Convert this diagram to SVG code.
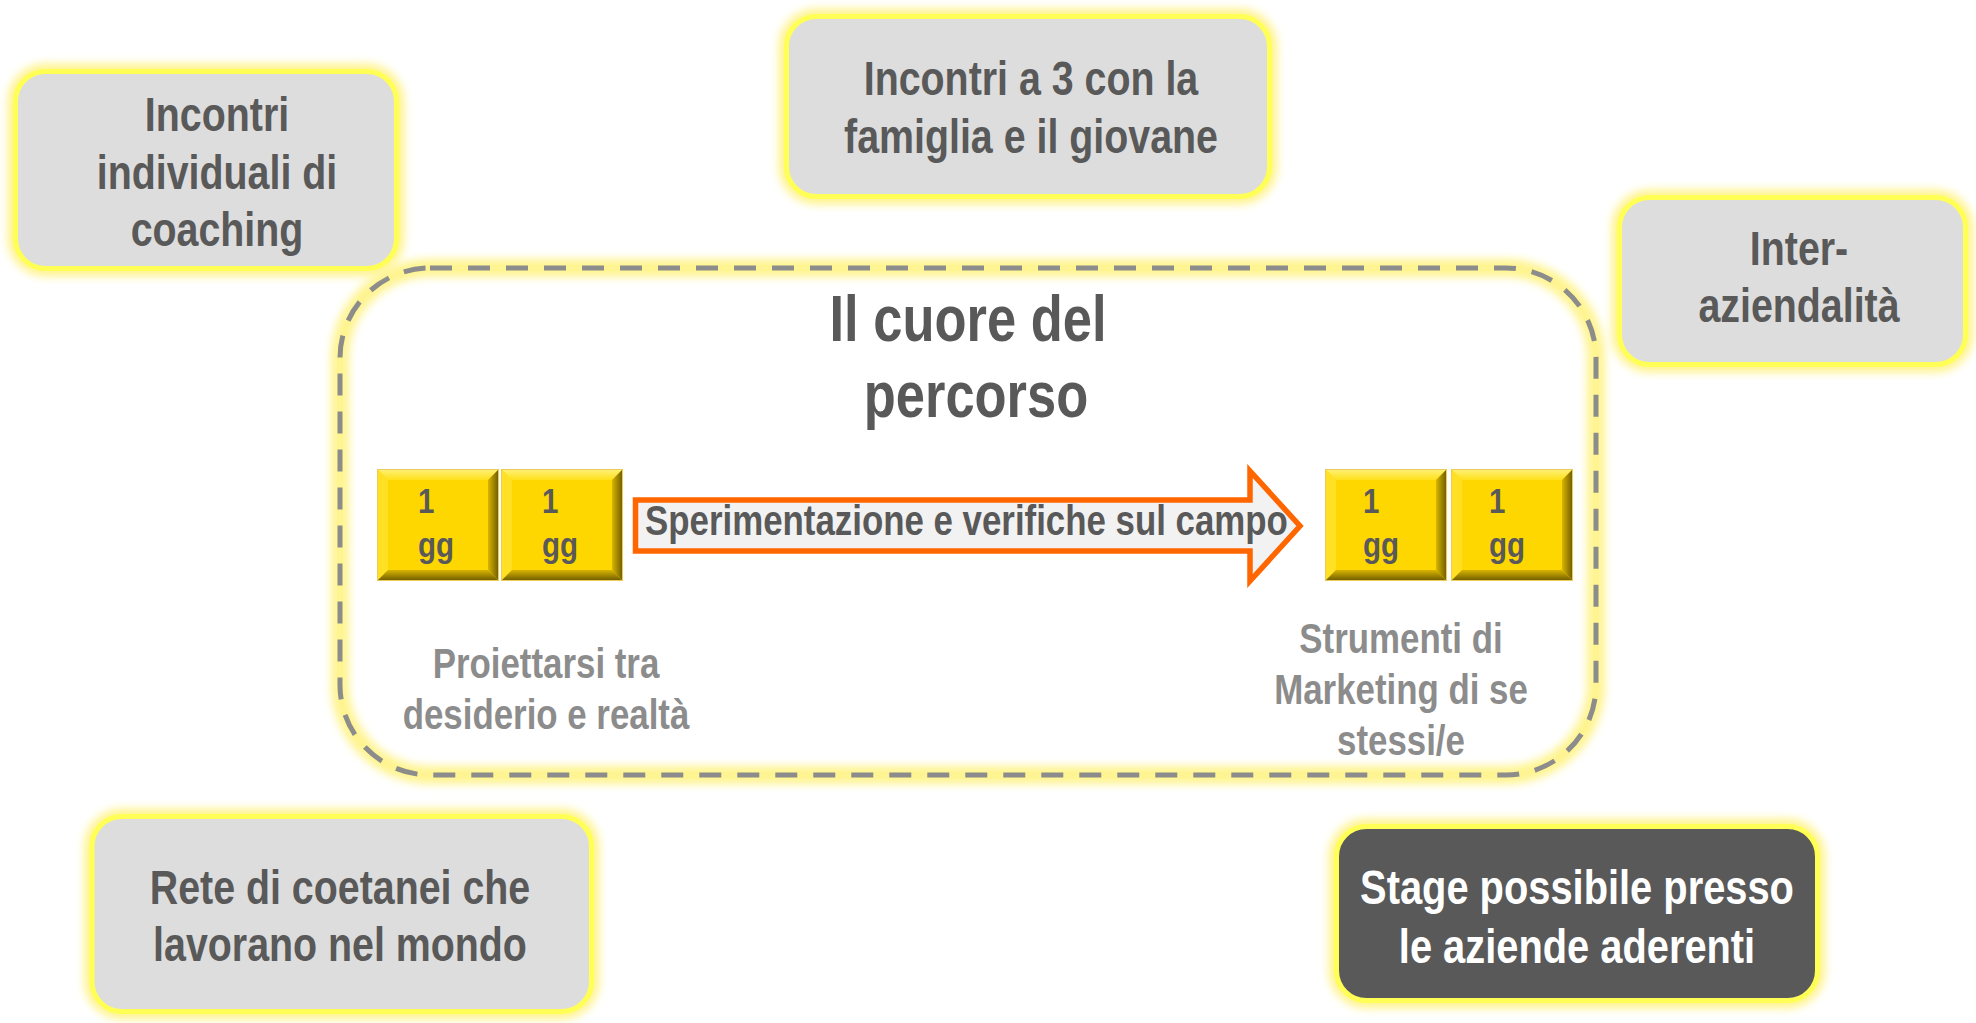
<svg xmlns="http://www.w3.org/2000/svg" xmlns:xlink="http://www.w3.org/1999/xlink" width="1976" height="1023" viewBox="0 0 1976 1023">
<style>
  .t { font-family: "Liberation Sans", Arial, sans-serif; font-weight: bold; }
  .node { fill: #DDDDDD; stroke: #FFFF55; stroke-width: 5; }
  .dark { fill: #595959; stroke: #FFFF55; stroke-width: 5; }
  .glow { fill: none; stroke: #FFF27A; stroke-width: 16; opacity: 0.85; filter: url(#blur); }
  .lbl { font-size: 48px; fill: #595959; text-anchor: middle; }
  .wlbl { font-size: 48px; fill: #FFFFFF; text-anchor: middle; }
  .sub { font-size: 42px; fill: #8C8C8C; text-anchor: middle; }
  .gg { font-size: 36px; fill: #595959; }
</style>
<defs>
  <filter id="blur" x="-10%" y="-10%" width="120%" height="120%">
    <feGaussianBlur stdDeviation="4"/>
  </filter>
  <linearGradient id="gTop" x1="0" y1="0" x2="0" y2="1">
    <stop offset="0" stop-color="#FFF27A"/>
    <stop offset="1" stop-color="#FFE01A"/>
  </linearGradient>
  <linearGradient id="gBot" x1="0" y1="0" x2="0" y2="1">
    <stop offset="0" stop-color="#D9B500"/>
    <stop offset="1" stop-color="#6B5900"/>
  </linearGradient>
  <linearGradient id="gRight" x1="0" y1="0" x2="1" y2="0">
    <stop offset="0" stop-color="#D9B500"/>
    <stop offset="1" stop-color="#6B5900"/>
  </linearGradient>
  <symbol id="sq" viewBox="0 0 122 112" width="122" height="112">
    <rect x="0" y="0" width="122" height="112" fill="#FFD700"/>
    <polygon points="0,0 122,0 111,11 11,11" fill="url(#gTop)"/>
    <polygon points="0,0 11,11 11,101 0,112" fill="#FFE024"/>
    <polygon points="0,112 11,101 111,101 122,112" fill="url(#gBot)"/>
    <polygon points="122,0 111,11 111,101 122,112" fill="url(#gRight)"/>
    <rect x="0.5" y="0.5" width="121" height="111" fill="none" stroke="#EBCB5A" stroke-width="1"/>
  </symbol>
</defs>

<rect width="1976" height="1023" fill="#FFFFFF"/>

<g id="core">
  <rect x="340" y="268" width="1256" height="507" rx="90" fill="none" stroke="#FFF27A" stroke-width="18" opacity="0.85" filter="url(#blur)"/>
  <rect x="340" y="268" width="1256" height="507" rx="90" fill="none" stroke="#8C8C8C" stroke-width="5" stroke-dasharray="22 16"/>
  <text class="t" font-size="64" fill="#595959" text-anchor="middle" transform="translate(968,0) scale(0.82,1)" x="0" y="341">Il cuore del</text>
  <text class="t" font-size="64" fill="#595959" text-anchor="middle" transform="translate(976,0) scale(0.82,1)" x="0" y="417">percorso</text>
</g>

<g id="coaching">
  <rect class="glow" x="15.5" y="71.5" width="381" height="197" rx="30"/>
  <rect class="node" x="15.5" y="71.5" width="381" height="197" rx="30"/>
  <g transform="translate(217,0) scale(0.82,1)">
    <text class="t lbl" x="0" y="131">Incontri</text>
    <text class="t lbl" x="0" y="189">individuali di</text>
    <text class="t lbl" x="0" y="246">coaching</text>
  </g>
</g>

<g id="famiglia">
  <rect class="glow" x="786.5" y="16.5" width="483" height="180" rx="30"/>
  <rect class="node" x="786.5" y="16.5" width="483" height="180" rx="30"/>
  <g transform="translate(1031,0) scale(0.82,1)">
    <text class="t lbl" x="0" y="95">Incontri a 3 con la</text>
    <text class="t lbl" x="0" y="153">famiglia e il giovane</text>
  </g>
</g>

<g id="interaziendalita">
  <rect class="glow" x="1619.5" y="197.5" width="346" height="167" rx="30"/>
  <rect class="node" x="1619.5" y="197.5" width="346" height="167" rx="30"/>
  <g transform="translate(1799,0) scale(0.82,1)">
    <text class="t lbl" x="0" y="265">Inter-</text>
    <text class="t lbl" x="0" y="322">aziendalità</text>
  </g>
</g>

<g id="rete">
  <rect class="glow" x="92" y="816.5" width="499.5" height="195" rx="30"/>
  <rect class="node" x="92" y="816.5" width="499.5" height="195" rx="30"/>
  <g transform="translate(340,0) scale(0.82,1)">
    <text class="t lbl" x="0" y="904">Rete di coetanei che</text>
    <text class="t lbl" x="0" y="961">lavorano nel mondo</text>
  </g>
</g>

<g id="stage">
  <rect class="glow" x="1336.5" y="826.5" width="481" height="174" rx="30"/>
  <rect class="dark" x="1336.5" y="826.5" width="481" height="174" rx="30"/>
  <g transform="translate(1577,0) scale(0.83,1)">
    <text class="t wlbl" x="0" y="904">Stage possibile presso</text>
    <text class="t wlbl" x="0" y="963">le aziende aderenti</text>
  </g>
</g>

<g id="day1">
  <use xlink:href="#sq" href="#sq" x="377" y="469"/>
  <g transform="translate(418,0) scale(0.82,1)">
    <text class="t gg" x="0" y="513">1</text>
    <text class="t gg" x="0" y="557">gg</text>
  </g>
</g>
<g id="day2">
  <use xlink:href="#sq" href="#sq" x="501" y="469"/>
  <g transform="translate(542,0) scale(0.82,1)">
    <text class="t gg" x="0" y="513">1</text>
    <text class="t gg" x="0" y="557">gg</text>
  </g>
</g>
<g id="day3">
  <use xlink:href="#sq" href="#sq" x="1325" y="469"/>
  <g transform="translate(1363,0) scale(0.82,1)">
    <text class="t gg" x="0" y="513">1</text>
    <text class="t gg" x="0" y="557">gg</text>
  </g>
</g>
<g id="day4">
  <use xlink:href="#sq" href="#sq" x="1451" y="469"/>
  <g transform="translate(1489,0) scale(0.82,1)">
    <text class="t gg" x="0" y="513">1</text>
    <text class="t gg" x="0" y="557">gg</text>
  </g>
</g>

<g id="proiettarsi">
  <g transform="translate(546,0) scale(0.83,1)">
    <text class="t sub" x="0" y="678">Proiettarsi tra</text>
    <text class="t sub" x="0" y="729">desiderio e realtà</text>
  </g>
</g>

<g id="strumenti">
  <g transform="translate(1401,0) scale(0.83,1)">
    <text class="t sub" x="0" y="653">Strumenti di</text>
    <text class="t sub" x="0" y="704">Marketing di se</text>
    <text class="t sub" x="0" y="755">stessi/e</text>
  </g>
</g>

<g id="connectors">
  <path d="M635.5,500 H1250 V471 L1300,526 L1250,581 V551 H635.5 Z" fill="#F2F2F2" stroke="#FF6600" stroke-width="5.5" stroke-linejoin="miter"/>
  <text class="t" font-size="42" fill="#595959" transform="translate(645,0) scale(0.83,1)" x="0" y="535">Sperimentazione e verifiche sul campo</text>
</g>
</svg>
